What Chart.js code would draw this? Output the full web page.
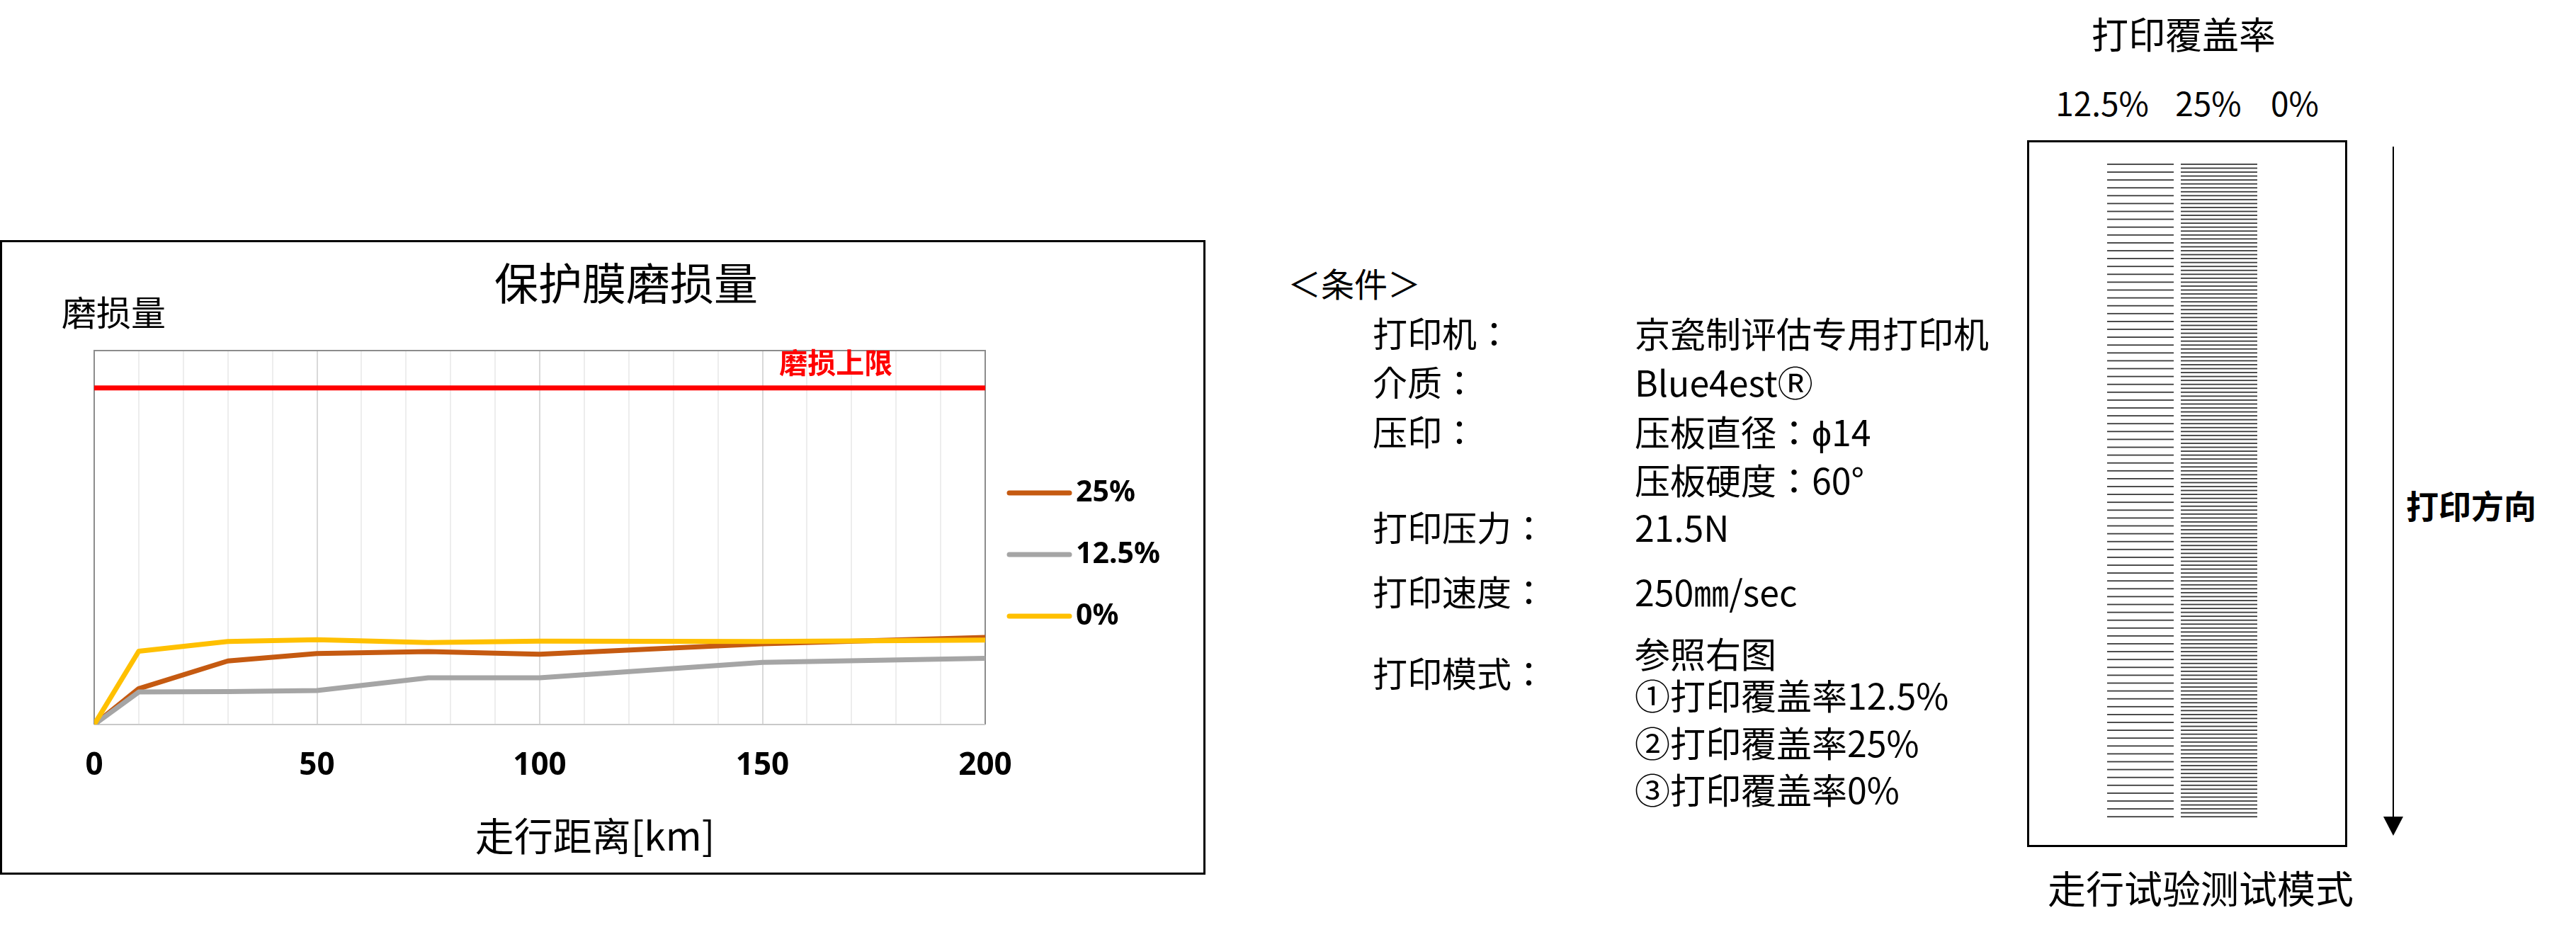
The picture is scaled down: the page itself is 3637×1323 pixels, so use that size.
<!DOCTYPE html>
<html lang="zh-CN">
<head>
<meta charset="utf-8">
<title>保护膜磨损量</title>
<script src="https://cdn.jsdelivr.net/npm/chart.js@4.4.1/dist/chart.umd.min.js"></script>
<style>
  html, body { margin: 0; padding: 0; background: #fff; }
  body { width: 3637px; height: 1323px; position: relative; overflow: hidden;
         font-family: "Noto Sans CJK SC", "Noto Sans", sans-serif; color: #000; }
  .t { position: absolute; white-space: nowrap; line-height: 1.2; transform: translateY(-50%); }
  .c { transform: translate(-50%, -50%); }
  .jp { font-family: "Noto Sans CJK JP", "Noto Sans CJK SC", sans-serif; }
  #chartBox { position: absolute; left: 0; top: 339px; width: 1702px; height: 896px;
              box-sizing: border-box; border: 3px solid #000; }
  #chartWrap { position: absolute; left: 0; top: 0; width: 1696px; height: 890px; }
  #pattern { position: absolute; left: 2862px; top: 198px; width: 452px; height: 998px;
             box-sizing: border-box; border: 3px solid #000; }
  #stripeCanvas { position: absolute; left: 0; top: 0; }
  #arrowLine { position: absolute; left: 3378px; top: 207px; width: 2px; height: 950px; background: #000; }
  #arrowHead { position: absolute; left: 3365px; top: 1153px; width: 0; height: 0;
               border-left: 14px solid transparent; border-right: 14px solid transparent; border-top: 27px solid #000; }
</style>
</head>
<body>

<div id="chartBox"><div id="chartWrap"><canvas id="wearChart"></canvas></div></div>
<div class="t c" style="left:884px; top:397px; font-size:62px;">保护膜磨损量</div>
<div class="t" style="left:87px; top:439px; font-size:49px;">磨损量</div>
<div class="t c" style="left:840px; top:1177px; font-size:55px;">走行距离[km]</div>

<div class="t c jp" lang="ja" style="left:3083px; top:47px; font-size:52px;">打印覆盖率</div>
<div id="pattern"><canvas id="stripeCanvas" width="446" height="992"></canvas></div>
<div id="arrowLine"></div>
<div id="arrowHead"></div>
<div class="t" style="left:3397px; top:713px; font-size:46px; font-weight:700;">打印方向</div>
<div class="t c jp" lang="ja" style="left:3107px; top:1253px; font-size:54px;">走行试验测试模式</div>

<script>
// ---- data ----
const distanceKm = [0, 10, 30, 50, 75, 100, 150, 200];
const seriesNames = ['25%', '12.5%', '0%'];
const wear25 = [0, 0.96, 1.70, 1.90, 1.95, 1.88, 2.16, 2.33];
const wear125 = [0, 0.87, 0.88, 0.91, 1.25, 1.25, 1.66, 1.77];
const wear0 = [0, 1.96, 2.22, 2.27, 2.19, 2.23, 2.22, 2.26];
const seriesColors = ['#C55A11', '#A5A5A5', '#FFC000'];
const wearLimit = 9;
const limitLabel = '磨损上限';
const xTickLabels = [0, 50, 100, 150, 200];

// conditions list
const condLabels = ['打印机：', '介质：', '压印：', '打印压力：', '打印速度：', '打印模式：'];
const condLabelY = [469, 538, 608, 743, 834, 949];
const condValues = ['京瓷制评估专用打印机', 'Blue4estⓇ', '压板直径：ϕ14', '压板硬度：60°', '21.5N',
                    '250㎜/sec', '参照右图', '①打印覆盖率12.5%', '②打印覆盖率25%', '③打印覆盖率0%'];
const condValueY = [469, 538, 608, 676, 743, 834, 921, 980, 1047, 1113];

// pattern diagram
const patternCoverage = ['12.5%', '25%', '0%'];
const patternLabelX = [2968, 3118, 3240];

(function () {
  const body = document.body;
  const add = (html) => body.insertAdjacentHTML('beforeend', html);

  add('<div class="t jp" lang="ja" style="left:1818px; top:399px; font-size:47px;">＜条件＞</div>');
  condLabels.forEach((s, i) => add(`<div class="t jp" lang="ja" style="left:1938px; top:${condLabelY[i]}px; font-size:49px;">${s}</div>`));
  condValues.forEach((s, i) => add(`<div class="t jp" lang="ja" style="left:2308px; top:${condValueY[i]}px; font-size:50px;">${s}</div>`));

  patternCoverage.forEach((s, i) => add(`<div class="t c jp" lang="ja" style="left:${patternLabelX[i]}px; top:145px; font-size:46px;">${s}</div>`));

  // stripe blocks: line pitch follows coverage (12.5% -> wide pitch, 25% -> half pitch)
  const ctx = document.getElementById('stripeCanvas').getContext('2d');
  ctx.fillStyle = '#3a3a3a';
  const stripe = (left, width, pitch) => {
    for (let y = 30; y <= 956; y += pitch) ctx.fillRect(left, y, width, 1.8);
  };
  stripe(110, 94, 11.1);
  stripe(214, 108, 5.55);
})();

// ---- chart ----
Chart.defaults.font.family = '"Noto Sans", "Noto Sans CJK SC", sans-serif';
Chart.defaults.color = '#000';

const toXY = (ys) => distanceKm.map((x, i) => ({ x, y: ys[i] }));

const framePlugin = {
  id: 'frame',
  beforeDatasetsDraw(chart) {
    const { ctx, chartArea: a } = chart;
    ctx.save();
    ctx.lineWidth = 2;
    ctx.strokeStyle = '#8c8c8c';
    ctx.beginPath();
    ctx.moveTo(a.left, a.bottom); ctx.lineTo(a.left, a.top);
    ctx.lineTo(a.right, a.top); ctx.lineTo(a.right, a.bottom);
    ctx.stroke();
    ctx.strokeStyle = '#c9c9c9';
    ctx.beginPath(); ctx.moveTo(a.left, a.bottom); ctx.lineTo(a.right, a.bottom); ctx.stroke();
    ctx.restore();
  }
};

const limitTextPlugin = {
  id: 'limitText',
  afterDatasetsDraw(chart) {
    const { ctx, scales } = chart;
    ctx.save();
    ctx.fillStyle = '#FF0000';
    ctx.font = 'bold 40px "Noto Sans CJK SC", sans-serif';
    ctx.textAlign = 'center';
    ctx.textBaseline = 'middle';
    ctx.fillText(limitLabel, scales.x.getPixelForValue(166.5), scales.y.getPixelForValue(wearLimit) - 36);
    ctx.restore();
  }
};

// legend drawn beside the plot, one row per series
const sideLegend = {
  id: 'sideLegend',
  afterDraw(chart) {
    const { ctx, chartArea: a } = chart;
    ctx.save();
    ctx.font = 'bold 41px "Noto Sans", sans-serif';
    ctx.textBaseline = 'middle';
    ctx.textAlign = 'left';
    chart.data.datasets.forEach((ds) => {
      if (ds.legendRow === undefined) return;
      const y = a.top + 201 + ds.legendRow * 87;
      ctx.strokeStyle = ds.borderColor;
      ctx.lineWidth = 7;
      ctx.lineCap = 'round';
      ctx.beginPath(); ctx.moveTo(a.right + 34, y); ctx.lineTo(a.right + 119, y); ctx.stroke();
      ctx.fillStyle = '#000';
      ctx.fillText(ds.label, a.right + 128, y);
    });
    ctx.restore();
  }
};

const lineDs = (label, ys, color, row, order) => ({
  label, data: toXY(ys), borderColor: color, backgroundColor: color,
  borderWidth: 7, pointRadius: 0, tension: 0, fill: false,
  borderJoinStyle: 'round', legendRow: row, order
});

new Chart(document.getElementById('wearChart').getContext('2d'), {
  type: 'line',
  data: {
    datasets: [
      lineDs(seriesNames[2], wear0, seriesColors[2], 2, 0),
      lineDs(seriesNames[1], wear125, seriesColors[1], 1, 1),
      lineDs(seriesNames[0], wear25, seriesColors[0], 0, 2),
      { label: limitLabel, data: [{ x: distanceKm[0], y: wearLimit }, { x: distanceKm[distanceKm.length - 1], y: wearLimit }],
        borderColor: '#FF0000', borderWidth: 7, pointRadius: 0, tension: 0, order: 3 }
    ]
  },
  options: {
    responsive: true,
    maintainAspectRatio: false,
    animation: false,
    devicePixelRatio: 1,
    layout: { padding: { left: 130, right: 308, top: 153, bottom: 0 } },
    plugins: { legend: { display: false }, title: { display: false }, tooltip: { enabled: false } },
    scales: {
      x: {
        type: 'linear', min: 0, max: 200,
        afterFit: (s) => { s.height = 209; },
        border: { display: false },
        grid: {
          drawTicks: false, lineWidth: 2,
          color: (c) => (c.tick && xTickLabels.includes(c.tick.value)) ? '#d9d9d9' : '#ededed'
        },
        ticks: {
          stepSize: 10, autoSkip: false, maxRotation: 0, padding: 32,
          font: { size: 44, weight: 'bold', lineHeight: 1.2 },
          callback: (v) => xTickLabels.includes(v) ? String(v) : ''
        }
      },
      y: { display: false, min: 0, max: 10 }
    }
  },
  plugins: [framePlugin, limitTextPlugin, sideLegend]
});
</script>
</body>
</html>
